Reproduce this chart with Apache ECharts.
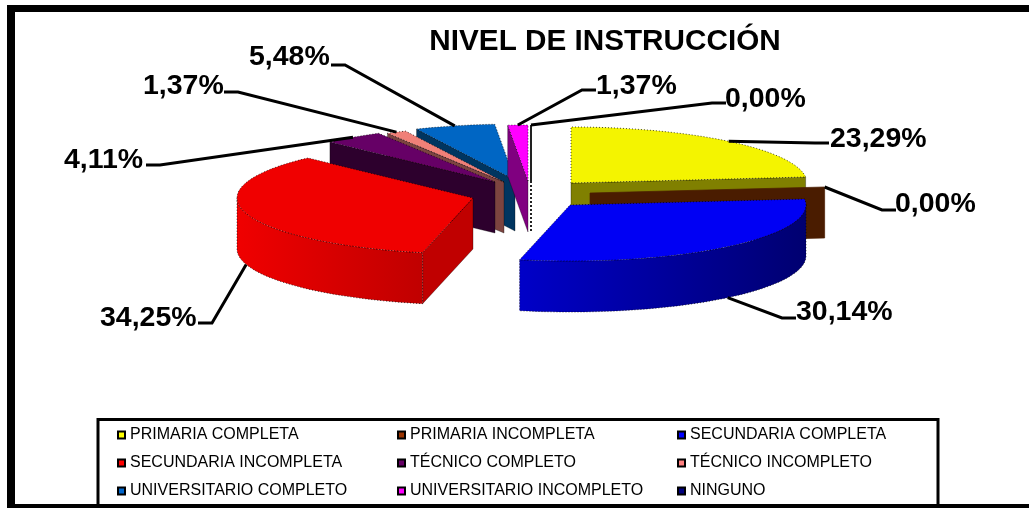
<!DOCTYPE html>
<html>
<head>
<meta charset="utf-8">
<style>
  html, body { margin: 0; padding: 0; background: #fff; }
  #chart { width: 1029px; height: 508px; }
</style>
<script src="https://cdn.jsdelivr.net/npm/echarts@6/dist/echarts.min.js"></script>
</head>
<body>
<div id="chart"></div>
<script>
const categories = ['PRIMARIA COMPLETA', 'PRIMARIA INCOMPLETA', 'SECUNDARIA COMPLETA', 'SECUNDARIA INCOMPLETA', 'TÉCNICO COMPLETO', 'TÉCNICO INCOMPLETO', 'UNIVERSITARIO COMPLETO', 'UNIVERSITARIO INCOMPLETO', 'NINGUNO']
const values = [23.29, 0, 30.14, 34.25, 4.11, 1.37, 5.48, 1.37, 0]

// colores: cara superior, pared y marcador de la leyenda
const topColors = ['#f4f400', '#4a1c00', '#0000f4', '#f00000', '#660066', '#f08078', '#0066c4', '#ff00ff', '#000080']
const wallColors = ['#808000', '#4a1c00', '#000080', '#c00000', '#2d002d', '#7c4440', '#003560', '#800080', '#000080']
const arcWallColors = [null, null, ['#0000c8', '#000070'], ['#f00000', '#c00000'], null, null, null, null, null]
const markerColors = ['#ffff00', '#993300', '#0000ff', '#ff0000', '#660066', '#ff8080', '#0066cc', '#ff00ff', '#000080']

// centro de cada porcion (el pastel esta explotado) y orden de pintado
const centers = [[571, 183], [590, 193], [570, 205], [473, 198], [495, 182], [504, 182], [515, 180], [528, 181], [531, 181]]
const paintOrder = [6, 7, 8, 3, 2, 1, 0, 9, 10]
const rx = 236
const ry = 56
const depth = 51

// codo de la linea guia y posicion del texto de cada etiqueta
const labelElbows = [[815, 143], [882, 210], [782, 318], [212, 323], [160, 165], [238, 92], [345, 65], [582, 90], [712, 103]]
const labelPos = [[830, 140], [895, 205], [796, 313], [100, 319], [64, 161], [143, 87], [249, 58], [596, 87], [725, 100]]

const legendColumns = [[0, 3, 6], [1, 4, 7], [2, 5, 8]]
const legendLeft = [117, 397, 677]

const total = values.reduce((a, b) => a + b, 0)
const startAngles = []
values.reduce((acc, v, i) => {
  startAngles[i] = acc
  return acc + v / total * 360
}, 0)

const edge = { stroke: 'rgba(0,0,0,0.7)', lineWidth: 1, lineDash: [1, 2] }

function point (c, deg, dy) {
  const t = deg * Math.PI / 180
  return [c[0] + rx * Math.sin(t), c[1] - ry * Math.cos(t) + (dy || 0)]
}

function arcPoints (c, a1, a2, dy) {
  const pts = []
  const n = Math.max(1, Math.ceil((a2 - a1) / 2))
  for (let i = 0; i <= n; i++) {
    pts.push(point(c, a1 + (a2 - a1) * i / n, dy))
  }
  return pts
}

function face (c, deg, fill, extra) {
  const p = point(c, deg)
  const q = point(c, deg, depth)
  return {
    type: 'polygon',
    shape: { points: [[c[0], c[1]], p, q, [c[0], c[1] + depth]] },
    style: Object.assign({ fill: fill, stroke: 'rgba(0,0,0,0.45)', lineWidth: 0.7 }, extra || {})
  }
}

function renderSlice (params, api) {
  const i = params.seriesIndex
  const c = centers[i]
  const a1 = startAngles[i]
  const a2 = a1 + api.value(0) / total * 360
  const children = []
  const sin1 = Math.sin(a1 * Math.PI / 180)
  const sin2 = Math.sin(a2 * Math.PI / 180)

  if (api.value(0) === 0) {
    // porcion de 0%: solo se ve la cara radial
    children.push(face(c, a2, wallColors[i], Math.abs(sin2) < 0.01
      ? { stroke: '#222', lineWidth: 2, lineDash: [2, 2] }
      : { stroke: wallColors[i] }))
  } else {
    if (sin1 < -0.01) children.push(face(c, a1, wallColors[i]))
    if (sin2 > 0.01) children.push(face(c, a2, wallColors[i]))
    // pared curva: solo la parte del frente
    const f1 = Math.max(a1, 90)
    const f2 = Math.min(a2, 270)
    if (f2 > f1) {
      const upper = arcPoints(c, f1, f2, 0)
      const lower = arcPoints(c, f1, f2, depth).reverse()
      const grad = arcWallColors[i]
      children.push({
        type: 'polygon',
        shape: { points: upper.concat(lower) },
        style: Object.assign({
          fill: grad
            ? new echarts.graphic.LinearGradient(0, 0, 1, 0, [
              { offset: 0, color: grad[0] }, { offset: 1, color: grad[1] }])
            : wallColors[i]
        }, edge)
      })
    }
    children.push({
      type: 'polygon',
      shape: { points: [[c[0], c[1]]].concat(arcPoints(c, a1, a2, 0)) },
      style: Object.assign({ fill: topColors[i] }, edge)
    })
  }

  // linea guia y etiqueta
  const mid = (a1 + a2) / 2
  const front = mid > 90 && mid < 270
  const elbow = labelElbows[i]
  const tail = labelPos[i][0] < elbow[0] ? elbow[0] - 14 : elbow[0] + 14
  children.push({
    type: 'polyline',
    shape: { points: [point(c, mid, front ? depth : 0), elbow, [tail, elbow[1]]] },
    style: { stroke: '#000', lineWidth: 3, fill: null },
    z2: 20
  })
  children.push({
    type: 'text',
    x: labelPos[i][0],
    y: labelPos[i][1],
    scaleX: 1.055,
    style: {
      text: values[i].toFixed(2).replace('.', ',') + '%',
      fill: '#000',
      font: 'bold 27px "Liberation Sans", Arial, sans-serif',
      verticalAlign: 'middle'
    },
    z2: 21
  })
  return { type: 'group', children: children }
}

const chart = echarts.init(document.getElementById('chart'), null, { renderer: 'canvas' })

chart.setOption({
  animation: false,
  backgroundColor: '#fff',
  title: {
    text: 'NIVEL DE INSTRUCCIÓN',
    left: 600,
    top: 22,
    textAlign: 'center',
    textStyle: { fontFamily: '"Liberation Sans", Arial, sans-serif', fontSize: 29.7, fontWeight: 'bold', color: '#000' }
  },
  legend: legendColumns.map((col, k) => ({
    orient: 'vertical',
    left: legendLeft[k],
    top: 427,
    itemWidth: 7,
    itemHeight: 7,
    itemGap: 12,
    padding: 0,
    icon: 'rect',
    selectedMode: false,
    data: col.map(i => ({
      name: categories[i],
      itemStyle: { color: markerColors[i], borderColor: '#000', borderWidth: 2 }
    })),
    textStyle: { fontFamily: '"Liberation Sans", Arial, sans-serif', fontSize: 16, color: '#000', lineHeight: 16 }
  })),
  graphic: [
    // marco: sin borde a la derecha, se sale de la imagen
    { type: 'rect', shape: { x: 7, y: 5, width: 1022, height: 7 }, style: { fill: '#000' }, z: 0 },
    { type: 'rect', shape: { x: 7, y: 5, width: 8, height: 503 }, style: { fill: '#000' }, z: 0 },
    { type: 'rect', shape: { x: 7, y: 504, width: 1022, height: 4 }, style: { fill: '#000' }, z: 0 },
    { type: 'rect', shape: { x: 98, y: 419.5, width: 840, height: 86 }, style: { fill: 'none', stroke: '#000', lineWidth: 3 }, z: 0 }
  ],
  series: categories.map((name, i) => ({
    name: name,
    type: 'custom',
    coordinateSystem: 'none',
    z: paintOrder[i] + 2,
    itemStyle: { color: markerColors[i] },
    renderItem: renderSlice,
    data: [[values[i]]],
    encode: { value: 0 }
  }))
})
</script>
</body>
</html>
